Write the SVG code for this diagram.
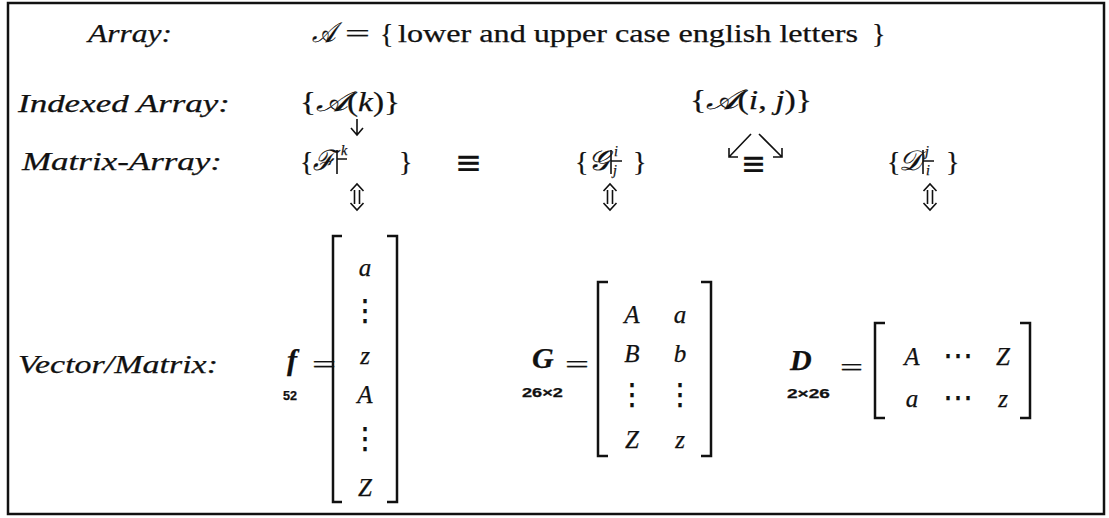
<svg xmlns="http://www.w3.org/2000/svg" width="1109" height="518" viewBox="0 0 1109 518">
<style>
text{font-family:"Liberation Serif","DejaVu Serif",serif;fill:#111;stroke:#111;stroke-width:0.25}
.lab{font-style:italic;font-size:25px}
.rm{font-size:25px}
.br{font-size:28px}
.mi{font-style:italic;font-size:25px}
.sc{font-family:"DejaVu Serif","Liberation Serif",serif;font-style:italic;font-size:28px}
.bf{font-style:italic;font-weight:bold;font-size:30px}
.sub{font-family:"Liberation Sans",sans-serif;font-weight:bold;font-size:13px}
.sm{font-style:italic;font-size:14px}
.eq{font-family:"DejaVu Sans",sans-serif;font-size:34px}
.dots{font-family:"DejaVu Serif",serif;font-size:30px}
.ln{stroke:#111;stroke-width:2.5;fill:none}
.tn{stroke:#111;stroke-width:1.6;fill:none}
.mid{text-anchor:middle}
</style>
<rect x="8" y="3" width="1096" height="511" fill="#fff" stroke="#111" stroke-width="2.5"/>

<g id="array">
<text class="lab" x="88" y="42" textLength="84" lengthAdjust="spacingAndGlyphs">Array:</text>
<text class="sc" x="312" y="42" textLength="23" lengthAdjust="spacingAndGlyphs">𝒜</text>
<text class="rm" x="345" y="42" textLength="25" lengthAdjust="spacingAndGlyphs">=</text>
<text class="br" x="380" y="43">{</text>
<text class="rm" x="398" y="42" textLength="460" lengthAdjust="spacingAndGlyphs">lower and upper case english letters</text>
<text class="br" x="872" y="43">}</text>
</g>

<g id="indexed">
<text class="lab" x="18" y="112" textLength="212" lengthAdjust="spacingAndGlyphs">Indexed Array:</text>
<text class="br" x="300" y="111" textLength="100" lengthAdjust="spacingAndGlyphs">{<tspan class="sc">𝒜</tspan>(<tspan font-style="italic">k</tspan>)}</text>
<text class="br" x="690" y="109" textLength="122" lengthAdjust="spacingAndGlyphs">{<tspan class="sc">𝒜</tspan>(<tspan font-style="italic">i</tspan>, <tspan font-style="italic">j</tspan>)}</text>
</g>

<g id="matrix-array">
<text class="lab" x="22" y="170" textLength="200" lengthAdjust="spacingAndGlyphs">Matrix-Array:</text>
<g id="F">
<text class="br" x="300" y="171">{</text>
<text class="sc" x="313" y="170" textLength="22" lengthAdjust="spacingAndGlyphs">ℱ</text>
<path class="tn" d="M337,150 V174 M337,159 H347"/>
<text class="sm" x="341" y="155">k</text>
<text class="br" x="399" y="171">}</text>
</g>
<text class="eq" x="455" y="174" textLength="27" lengthAdjust="spacingAndGlyphs">≡</text>
<g id="G">
<text class="br" x="575" y="171">{</text>
<text class="sc" x="588" y="170" textLength="21" lengthAdjust="spacingAndGlyphs">𝒢</text>
<path class="tn" d="M611,150 V174 M611,161 H622"/>
<text class="sm" x="614" y="156">i</text>
<text class="sm" x="613" y="175">j</text>
<text class="br" x="633" y="171">}</text>
</g>
<text class="eq" x="741" y="175" textLength="25" lengthAdjust="spacingAndGlyphs">≡</text>
<g id="D">
<text class="br" x="887" y="171">{</text>
<text class="sc" x="899" y="170" textLength="22" lengthAdjust="spacingAndGlyphs">𝒟</text>
<path class="tn" d="M923,150 V174 M923,161 H934"/>
<text class="sm" x="925" y="156">j</text>
<text class="sm" x="926" y="175">i</text>
<text class="br" x="946" y="171">}</text>
</g>
</g>

<g id="connectors" class="tn">
<path d="M357,119 V135 M351,128 L357,135 L363,128"/>
<path d="M751,134 L729,157 M729,148 L729,157 L738,157"/>
<path d="M759,134 L782,157 M773,157 L782,157 L782,148"/>
<path d="M354.5,190 V204 M359.5,190 V204 M350.5,191 L357,184 L363.5,191 M350.5,203 L357,210 L363.5,203"/>
<path d="M607.5,190 V204 M612.5,190 V204 M603.5,191 L610,184 L616.5,191 M603.5,203 L610,210 L616.5,203"/>
<path d="M927.5,190 V204 M932.5,190 V204 M923.5,191 L930,184 L936.5,191 M923.5,203 L930,210 L936.5,203"/>
</g>

<g id="vector-matrix">
<text class="lab" x="18" y="373" textLength="200" lengthAdjust="spacingAndGlyphs">Vector/Matrix:</text>
<g id="f">
<text class="bf" x="287" y="370">f</text>
<text class="sub" x="283" y="400" textLength="14" lengthAdjust="spacingAndGlyphs">52</text>
<text class="rm" x="312" y="373" textLength="24" lengthAdjust="spacingAndGlyphs">=</text>
<path class="ln" d="M342,236 H333 V502 H342 M387,236 H397 V502 H387"/>
<text class="mi mid" x="365" y="276">a</text>
<text class="dots mid" x="365" y="320">⋮</text>
<text class="mi mid" x="365" y="364">z</text>
<text class="mi mid" x="365" y="403">A</text>
<text class="dots mid" x="365" y="448">⋮</text>
<text class="mi mid" x="365" y="496">Z</text>
</g>
<g id="Gm">
<text class="bf" x="532" y="368">G</text>
<text class="sub" x="522" y="397" textLength="41" lengthAdjust="spacingAndGlyphs">26×2</text>
<text class="rm" x="565" y="373" textLength="24" lengthAdjust="spacingAndGlyphs">=</text>
<path class="ln" d="M608,282 H598 V456 H608 M701,282 H711 V456 H701"/>
<text class="mi mid" x="632" y="323">A</text>
<text class="mi mid" x="680" y="323">a</text>
<text class="mi mid" x="632" y="362">B</text>
<text class="mi mid" x="680" y="362">b</text>
<text class="dots mid" x="632" y="404">⋮</text>
<text class="dots mid" x="680" y="404">⋮</text>
<text class="mi mid" x="632" y="448">Z</text>
<text class="mi mid" x="680" y="448">z</text>
</g>
<g id="Dm">
<text class="bf" x="790" y="370">D</text>
<text class="sub" x="787" y="398" textLength="43" lengthAdjust="spacingAndGlyphs">2×26</text>
<text class="rm" x="840" y="376" textLength="23" lengthAdjust="spacingAndGlyphs">=</text>
<path class="ln" d="M885,323 H875 V418 H885 M1020,323 H1030 V418 H1020"/>
<text class="mi mid" x="912" y="365">A</text>
<text class="dots mid" x="958" y="365">⋯</text>
<text class="mi mid" x="1003" y="365">Z</text>
<text class="mi mid" x="912" y="407">a</text>
<text class="dots mid" x="958" y="407">⋯</text>
<text class="mi mid" x="1003" y="407">z</text>
</g>
</g>
</svg>
